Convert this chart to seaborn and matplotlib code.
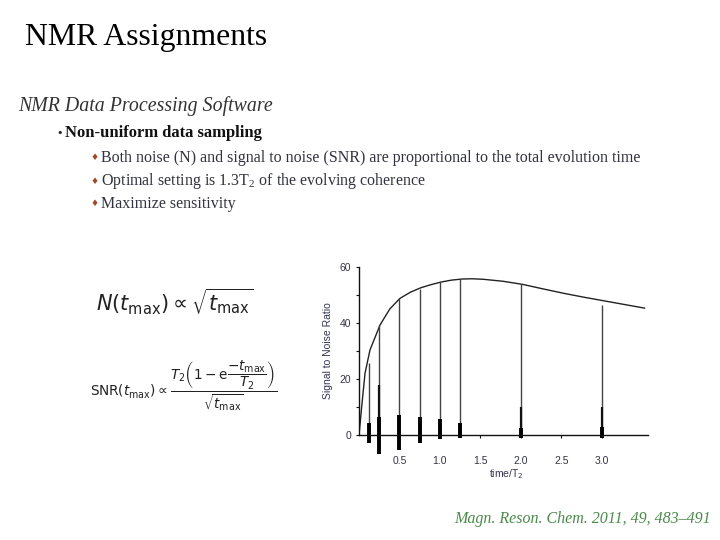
import numpy as np
import matplotlib
matplotlib.use("Agg")
import matplotlib.pyplot as plt
import seaborn as sns
import pandas as pd

# ---- data ----
curve_t = [0.0, 0.033, 0.074, 0.136, 0.26, 0.38, 0.506, 0.635, 0.765, 0.89, 1.01, 1.14,
           1.27, 1.40, 1.54, 1.78, 2.02, 2.27, 2.53, 2.78, 3.03, 3.28, 3.53]
curve_snr = [0.0, 10.0, 22.0, 30.4, 39.3, 45.0, 48.8, 51.0, 52.6, 53.7, 54.6, 55.3,
             55.7, 55.8, 55.6, 54.9, 53.8, 52.2, 50.6, 49.2, 47.9, 46.6, 45.3]
spike_t = [0.125, 0.25, 0.5, 0.75, 1.0, 1.25, 2.0, 3.0]
spike_snr = [25.6, 39.3, 48.8, 52.0, 54.5, 55.7, 53.8, 46.4]
stem_snr = [4.0, 18.0, 7.0, 6.0, 5.0, 4.0, 10.0, 10.0]
noise_hi = [4.2, 6.4, 7.0, 6.4, 5.6, 4.4, 2.6, 3.0]
noise_lo = [-3.0, -6.9, -5.5, -3.0, -1.6, -1.0, -1.0, -1.0]
y_ticks = [0, 20, 40, 60]
x_ticks = [0.5, 1.0, 1.5, 2.0, 2.5, 3.0]
x_tick_labels = ["0.5", "1.0", "1.5", "2.0", "2.5", "3.0"]

title = "NMR Assignments"
subtitle = "NMR Data Processing Software"
bullet = "Non-uniform data sampling"
sub_bullets = ["Both noise (N) and signal to noise (SNR) are proportional to the total evolution time",
               r"Optimal setting is 1.3T$_2$ of the evolving coherence",
               "Maximize sensitivity"]
citation = "Magn. Reson. Chem. 2011, 49, 483\u2013491"

sns.set_theme(style="white")
plt.rcParams["font.family"] = ["Liberation Serif", "DejaVu Serif"]
plt.rcParams["mathtext.fontset"] = "custom"
plt.rcParams["mathtext.rm"] = "Liberation Serif"
plt.rcParams["mathtext.it"] = "Liberation Serif:italic"

fig = plt.figure(figsize=(7.2, 5.4), dpi=100)
fig.patch.set_facecolor("white")

W, H = 720.0, 540.0
def fx(px):
    return px / W
def fy(py):
    return 1 - py / H

# slide text
fig.text(fx(25), fy(37), title, fontsize=22.9, color="black", va="center", ha="left")
fig.text(fx(18), fy(106), subtitle, fontsize=14.3, style="italic", color="#333333", va="center", ha="left")
fig.text(fx(56), fy(133), "\u2022", fontsize=8, color="#222222", va="center", ha="left",
         family=["DejaVu Sans"])
fig.text(fx(65), fy(133), bullet, fontsize=12, weight="bold", color="#111111", va="center", ha="left")
for i, s in enumerate(sub_bullets):
    yy = 158 + 23 * i
    fig.text(fx(90), fy(yy), "\u2666", fontsize=6.5, color="#a04a2a", va="center", ha="left",
             family=["DejaVu Sans"])
    fig.text(fx(101), fy(yy), s, fontsize=11.5, color="#333340", va="center", ha="left",
             math_fontfamily="custom")

fig.text(fx(454), fy(519), citation, fontsize=11.5, style="italic", color="#4a8a4a", va="center", ha="left")

# formulas
fig.text(fx(96), fy(302), r"$N(t_{\mathrm{max}})\propto\sqrt{t_{\mathrm{max}}}$",
         fontsize=15, color="#222222", va="center", ha="left", math_fontfamily="dejavusans")
fig.text(fx(90), fy(386),
         r"$\mathrm{SNR}(t_{\mathrm{max}})\propto\dfrac{T_2\left(1-\mathrm{e}\dfrac{-t_{\mathrm{max}}}{T_2}\right)}{\sqrt{t_{\mathrm{max}}}}$",
         fontsize=9.8, color="#222222", va="center", ha="left", math_fontfamily="dejavusans")

# chart
ylo, yhi = -9.0, 61.0
px_per_unit = 2.8
ax_bottom_px = 435 + (-ylo) * px_per_unit
ax_h_px = (yhi - ylo) * px_per_unit
ax = fig.add_axes([fx(359), 1 - ax_bottom_px / H, (648 - 359) / W, ax_h_px / H])
ax.set_facecolor("white")

df_curve = pd.DataFrame({"t": curve_t, "snr": curve_snr})
sns.lineplot(data=df_curve, x="t", y="snr", ax=ax, color="#222222", linewidth=1.0)
ax.vlines(spike_t, 0, spike_snr, color="#444444", linewidth=1.0)
ax.vlines(spike_t, 0, stem_snr, color="#111111", linewidth=1.6)
ax.vlines(spike_t, noise_lo, noise_hi, color="#000000", linewidth=2.8)

ax.set_xlim(0, 3.57)
ax.set_ylim(ylo, yhi)
for side in ["top", "right"]:
    ax.spines[side].set_visible(False)
ax.spines["left"].set_bounds(0, 60)
ax.spines["bottom"].set_position(("data", 0))
for side in ["left", "bottom"]:
    ax.spines[side].set_color("#111111")
    ax.spines[side].set_linewidth(1.0)

ax.set_yticks(y_ticks)
ax.set_yticklabels([str(v) for v in y_ticks])
ax.set_yticks([10, 30, 50], minor=True)
ax.set_xticks(x_ticks)
ax.set_xticklabels(x_tick_labels)
ax.tick_params(axis="y", which="both", direction="out", length=2.5, width=0.8, color="#111111",
               labelsize=7.5, labelcolor="#333344", pad=3, left=True)
ax.tick_params(axis="x", direction="out", length=2.5, width=0.8, color="#111111",
               labelsize=7.5, labelcolor="#333344", pad=12.5, bottom=True)
for lab in ax.get_xticklabels() + ax.get_yticklabels():
    lab.set_family(["Liberation Sans", "DejaVu Sans"])

ax.set_xlabel("")
ax.set_ylabel("")
fig.text(fx(328), fy(351), "Signal to Noise Ratio", rotation=90, fontsize=7.5, color="#333355",
         va="center", ha="center", family=["Liberation Sans", "DejaVu Sans"])
fig.text(fx(506), fy(474), r"time/T$_2$", fontsize=7.5, color="#333355", va="center", ha="center",
         family=["Liberation Sans", "DejaVu Sans"], math_fontfamily="dejavusans")

fig.savefig("out.png", dpi=100, facecolor="white")
